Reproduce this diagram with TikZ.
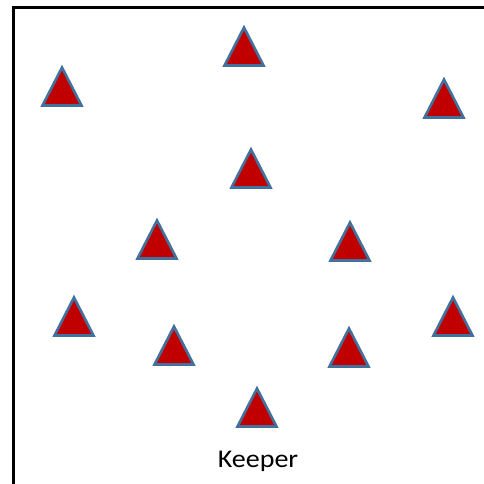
\documentclass[tikz,border=0pt]{standalone}
\usepackage{fontspec}
\setmainfont{Carlito}
\definecolor{tfill}{RGB}{192,0,0}
\definecolor{tedge}{RGB}{65,113,156}
\tikzset{
  frameline/.style={line width=3pt, black},
  tri/.pic={\draw[fill=tfill, draw=tedge, line width=2.6pt, line join=miter]
     (-19.5,-1.5) -- (19.5,-1.5) -- (0,-39.5) -- cycle;},
  label/.style={font=\fontsize{25.5}{30}\selectfont, inner sep=0pt, anchor=base, xscale=1.1}
}
\begin{document}
\begin{tikzpicture}[x=1pt, y=-1pt]
\useasboundingbox (0,0) rectangle (484,484);
\fill[white] (0,0) rectangle (484,484);
\coordinate (tl) at (13,8);
\coordinate (tr) at (484,8);
\coordinate (bl) at (13,484);
\draw[frameline] (tr) -- (tl) -- (bl);
\pic at (62,107) {tri};
\pic at (244,67) {tri};
\pic at (444,119) {tri};
\pic at (251,189) {tri};
\pic at (157,260) {tri};
\pic at (350,262) {tri};
\pic at (74,337) {tri};
\pic at (453,337) {tri};
\pic at (174,366) {tri};
\pic at (349,368) {tri};
\pic at (257,428) {tri};
\node[label] (keeper) at (258,467) {Keeper};
\end{tikzpicture}
\end{document}
